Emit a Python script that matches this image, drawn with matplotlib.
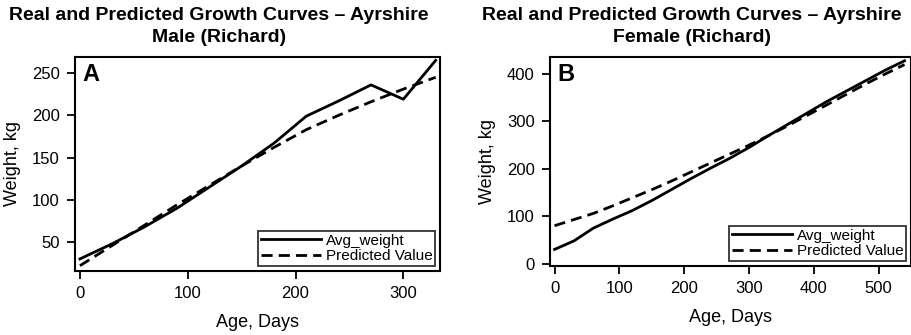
import matplotlib
matplotlib.use("Agg")
import matplotlib.pyplot as plt

plt.rcParams['font.family'] = ['Liberation Sans', 'DejaVu Sans']

# Panel A: Ayrshire male
male_age = [0, 30, 60, 90, 120, 150, 180, 210, 240, 270, 300, 330]
male_avg = [30, 48, 68, 90, 115, 140, 167, 199, 217, 236, 219, 265]
male_pred = [22, 46, 70, 94, 117, 140, 162, 183, 200, 216, 231, 245]

# Panel B: Ayrshire female
female_age = [0, 30, 60, 90, 120, 150, 180, 210, 240, 270, 300, 330,
              360, 390, 420, 450, 480, 510, 540]
female_avg = [30, 48, 75, 94, 112, 133, 156, 179, 201, 222, 245, 270,
              294, 318, 342, 364, 386, 408, 428]
female_pred = [80, 93, 106, 122, 139, 156, 174, 193, 212, 231, 250, 270,
               291, 313, 335, 357, 379, 400, 420]

titles = ["Real and Predicted Growth Curves \u2013 Ayrshire\nMale (Richard)",
          "Real and Predicted Growth Curves \u2013 Ayrshire\nFemale (Richard)"]
letters = ["A", "B"]
xticks = [[0, 100, 200, 300], [0, 100, 200, 300, 400, 500]]
yticks = [[50, 100, 150, 200, 250], [0, 100, 200, 300, 400]]
xlims = [(-4.6, 334), (-7, 550)]
ylims = [(15.7, 269), (-5, 436)]

fig = plt.figure(figsize=(9.12, 3.35), dpi=100)
axes = [fig.add_axes([75/912, 1-271/335, 365/912, 214/335]),
        fig.add_axes([550/912, 1-266/335, 361/912, 209/335])]
title_x = [219/912, 692/912]
ylab_coords = [(-0.172, 0.5), (-0.172, 0.5)]
xlab_coords = [(0.5, -0.240), (0.5, -0.245)]

data = [(male_age, male_avg, male_pred), (female_age, female_avg, female_pred)]
for i, ax in enumerate(axes):
    age, avg, pred = data[i]
    ax.plot(age, avg, color='black', lw=2.0, ls='-', label='Avg_weight')
    ax.plot(age, pred, color='black', lw=2.0, ls=(0, (4, 2.2)), label='Predicted Value')
    ax.set_xlim(*xlims[i])
    ax.set_ylim(*ylims[i])
    ax.set_xticks(xticks[i])
    ax.set_yticks(yticks[i])
    ax.tick_params(direction='out', length=6, width=1.3, pad=5, labelsize=12, colors='black')
    for s in ax.spines.values():
        s.set_linewidth(1.5)
    ax.set_xlabel('Age, Days', fontsize=13, va='center')
    ax.set_ylabel('Weight, kg', fontsize=13, va='center')
    ax.xaxis.set_label_coords(*xlab_coords[i])
    ax.yaxis.set_label_coords(*ylab_coords[i])
    ax.text(0.02, 0.97, letters[i], transform=ax.transAxes, fontsize=17,
            fontweight='bold', va='top', ha='left')
    leg = ax.legend(loc='lower right', fontsize=11, handlelength=3.9,
                    frameon=True, fancybox=False, edgecolor='black',
                    borderpad=0.2, labelspacing=0.1, handletextpad=0.3,
                    borderaxespad=0.3)
    leg.get_frame().set_linewidth(1.3)
    fig.text(title_x[i], 1-7/335, titles[i], ha='center', va='top',
             fontsize=14, fontweight='bold', linespacing=1.35)

fig.savefig('out.png', dpi=100)
